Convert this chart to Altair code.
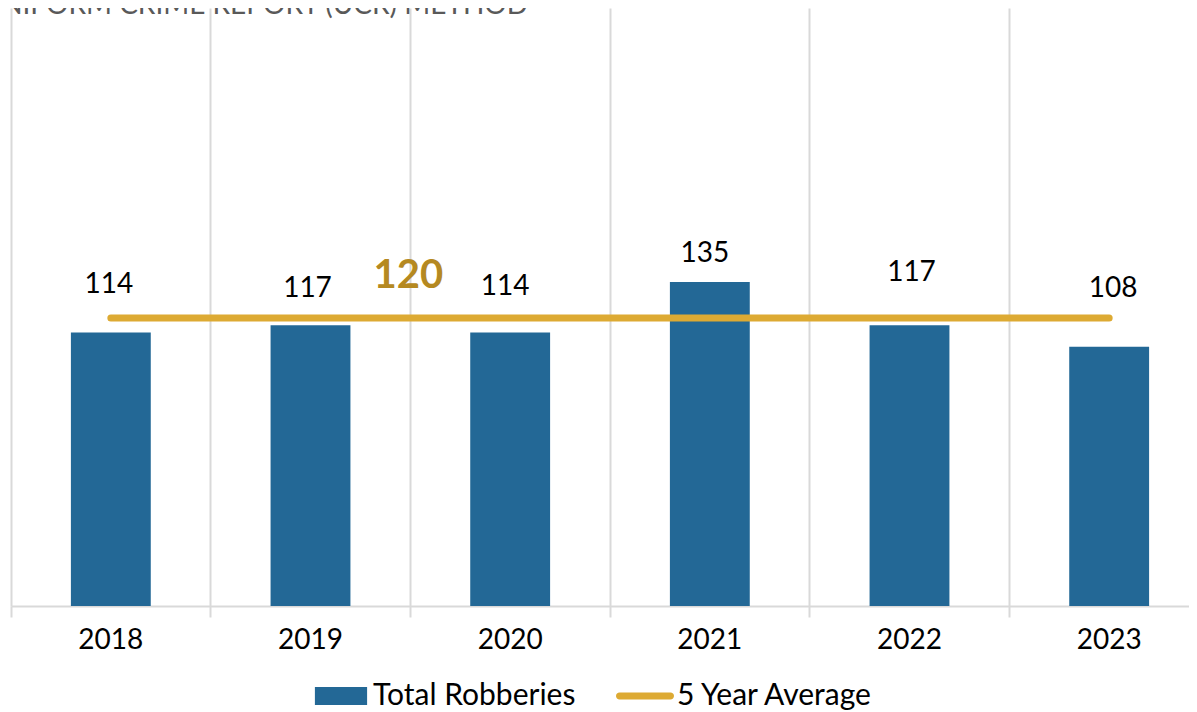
import altair as alt
import pandas as pd

# ---- data ----
years = ["2018", "2019", "2020", "2021", "2022", "2023"]
robberies = [114, 117, 114, 135, 117, 108]
five_year_avg = [120, 120, 120, 120, 120, 120]
series_names = ["Total Robberies", "5 Year Average"]
title_text = "UNIFORM CRIME REPORT (UCR) METHOD"
avg_label = "120"
avg_label_year = "2020"

# ---- layout tweaks for value labels (pixels) ----
label_dx = [-2, -3, -5, -5, 2, 4]
label_dy = [-47, -36.5, -45, -28, -52, -58]

BLUE = "#236896"
GOLD = "#DDAA33"
GOLD_TXT = "#B58921"
GRID = "#D9D9D9"
FONT = "Lato"

x_axis = alt.Axis(
    title=None, labelAngle=0, labelFont=FONT, labelFontSize=28, labelColor="#000000",
    labelPadding=9, domainColor=GRID, domainWidth=2, tickColor=GRID, tickWidth=2,
    tickSize=11, grid=True, gridColor=GRID, gridWidth=2, bandPosition=0,
)
x_scale = alt.Scale(domain=years, paddingInner=0, paddingOuter=0)
x_enc = alt.X("year:N", scale=x_scale, axis=x_axis)
y_scale = alt.Scale(domain=[0, 249.17], nice=False)
y_enc = alt.Y("value:Q", scale=y_scale, axis=None)

bars_df = pd.DataFrame({"year": years, "value": robberies})
avg_df = pd.DataFrame({"year": years, "value": five_year_avg})
legend_df = pd.DataFrame({"series": series_names, "year": [years[0]] * 2, "value": [0, 0]})
title_df = pd.DataFrame({"title": [title_text]})

rect_path = "M-0.9,-0.31H0.9V0.31H-0.9Z"
line_path = "M-0.88,-0.12H0.88A0.12,0.12 0 0 1 0.88,0.12H-0.88A0.12,0.12 0 0 1 -0.88,-0.12Z"

leg = alt.Legend(
    title=None, orient="none", legendX=301, legendY=659, direction="horizontal", columns=2,
    labelFont=FONT, labelFontSize=30, labelColor="#000000", labelOffset=3, columnPadding=40,
    symbolOpacity=1, symbolSize=3364, symbolStrokeWidth=0, padding=0, labelLimit=0,
)

legend_layer = alt.Chart(legend_df).mark_point(filled=True, opacity=0, size=3364).encode(
    x=x_enc, y=y_enc,
    color=alt.Color("series:N", scale=alt.Scale(domain=series_names, range=[BLUE, GOLD]), legend=leg),
    shape=alt.Shape("series:N", scale=alt.Scale(domain=series_names, range=[rect_path, line_path]), legend=leg),
)

bars = alt.Chart(bars_df).mark_bar(color=BLUE, width=alt.RelativeBandSize(0.4)).encode(x=x_enc, y=y_enc)

line = alt.Chart(avg_df).mark_line(color=GOLD, strokeWidth=7, strokeCap="round").encode(x=x_enc, y=y_enc)

label_layers = []
for i, yr in enumerate(years):
    df = pd.DataFrame({"year": [yr], "value": [robberies[i]]})
    label_layers.append(
        alt.Chart(df).mark_text(
            font=FONT, fontSize=28, color="#000000", baseline="middle", align="center",
            dx=label_dx[i], dy=label_dy[i],
        ).encode(x=x_enc, y=y_enc, text=alt.Text("value:Q"))
    )

avg_text_df = pd.DataFrame({"year": [avg_label_year], "value": [five_year_avg[0]], "label": [avg_label]})
avg_text = alt.Chart(avg_text_df).mark_text(
    font=FONT, fontSize=40, fontWeight="bold", color=GOLD_TXT, baseline="middle", align="center",
    dx=-2, dy=-42,
).encode(
    x=alt.X("year:N", bandPosition=0, scale=x_scale, axis=x_axis),
    y=y_enc, text="label:N",
)

# Chart title, cut off at the top edge as in the reference
title_mark = alt.Chart(title_df).mark_text(
    font=FONT, fontSize=28, color="#595959", align="right", baseline="alphabetic",
).encode(x=alt.value(517), y=alt.value(6), text="title:N")

chart = alt.layer(legend_layer, bars, line, *label_layers, avg_text, title_mark).properties(
    width=1198, height=598,
    autosize=alt.AutoSizeParams(type="none"),
    padding={"left": 3, "top": 0, "right": -20, "bottom": 110},
).configure_view(stroke=None)

chart.save("out.html", embed_options={"renderer": "svg", "actions": False})
